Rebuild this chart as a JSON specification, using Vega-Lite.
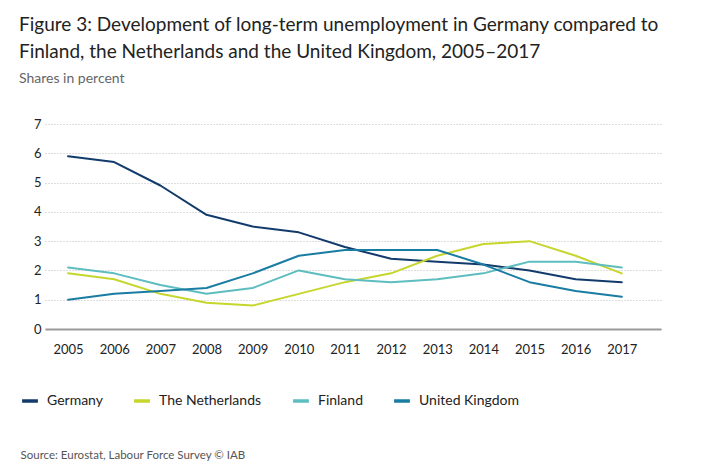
{
  "$schema": "https://vega.github.io/schema/vega-lite/v6.json",
  "autosize": "none",
  "width": 616,
  "height": 205,
  "padding": {"left": 45, "top": 124, "right": 40, "bottom": 147},
  "background": "white",
  "title": {
    "text": ["Figure 3: Development of long-term unemployment in Germany compared to", "Finland, the Netherlands and the United Kingdom, 2005\u20132017"],
    "subtitle": "Shares in percent",
    "anchor": "start",
    "frame": "group",
    "dx": -26,
    "offset": 32,
    "font": "Lato",
    "fontSize": 19,
    "fontWeight": "normal",
    "color": "#222222",
    "lineHeight": 27,
    "subtitleFont": "Lato",
    "subtitleFontSize": 14,
    "subtitleColor": "#666666",
    "subtitlePadding": 10
  },
  "data": {
    "values": [
      {"year": 2005, "country": "Germany", "share": 5.9},
      {"year": 2006, "country": "Germany", "share": 5.7},
      {"year": 2007, "country": "Germany", "share": 4.9},
      {"year": 2008, "country": "Germany", "share": 3.9},
      {"year": 2009, "country": "Germany", "share": 3.5},
      {"year": 2010, "country": "Germany", "share": 3.3},
      {"year": 2011, "country": "Germany", "share": 2.8},
      {"year": 2012, "country": "Germany", "share": 2.4},
      {"year": 2013, "country": "Germany", "share": 2.3},
      {"year": 2014, "country": "Germany", "share": 2.2},
      {"year": 2015, "country": "Germany", "share": 2.0},
      {"year": 2016, "country": "Germany", "share": 1.7},
      {"year": 2017, "country": "Germany", "share": 1.6},
      {"year": 2005, "country": "The Netherlands", "share": 1.9},
      {"year": 2006, "country": "The Netherlands", "share": 1.7},
      {"year": 2007, "country": "The Netherlands", "share": 1.2},
      {"year": 2008, "country": "The Netherlands", "share": 0.9},
      {"year": 2009, "country": "The Netherlands", "share": 0.8},
      {"year": 2010, "country": "The Netherlands", "share": 1.2},
      {"year": 2011, "country": "The Netherlands", "share": 1.6},
      {"year": 2012, "country": "The Netherlands", "share": 1.9},
      {"year": 2013, "country": "The Netherlands", "share": 2.5},
      {"year": 2014, "country": "The Netherlands", "share": 2.9},
      {"year": 2015, "country": "The Netherlands", "share": 3.0},
      {"year": 2016, "country": "The Netherlands", "share": 2.5},
      {"year": 2017, "country": "The Netherlands", "share": 1.9},
      {"year": 2005, "country": "Finland", "share": 2.1},
      {"year": 2006, "country": "Finland", "share": 1.9},
      {"year": 2007, "country": "Finland", "share": 1.5},
      {"year": 2008, "country": "Finland", "share": 1.2},
      {"year": 2009, "country": "Finland", "share": 1.4},
      {"year": 2010, "country": "Finland", "share": 2.0},
      {"year": 2011, "country": "Finland", "share": 1.7},
      {"year": 2012, "country": "Finland", "share": 1.6},
      {"year": 2013, "country": "Finland", "share": 1.7},
      {"year": 2014, "country": "Finland", "share": 1.9},
      {"year": 2015, "country": "Finland", "share": 2.3},
      {"year": 2016, "country": "Finland", "share": 2.3},
      {"year": 2017, "country": "Finland", "share": 2.1},
      {"year": 2005, "country": "United Kingdom", "share": 1.0},
      {"year": 2006, "country": "United Kingdom", "share": 1.2},
      {"year": 2007, "country": "United Kingdom", "share": 1.3},
      {"year": 2008, "country": "United Kingdom", "share": 1.4},
      {"year": 2009, "country": "United Kingdom", "share": 1.9},
      {"year": 2010, "country": "United Kingdom", "share": 2.5},
      {"year": 2011, "country": "United Kingdom", "share": 2.7},
      {"year": 2012, "country": "United Kingdom", "share": 2.7},
      {"year": 2013, "country": "United Kingdom", "share": 2.7},
      {"year": 2014, "country": "United Kingdom", "share": 2.2},
      {"year": 2015, "country": "United Kingdom", "share": 1.6},
      {"year": 2016, "country": "United Kingdom", "share": 1.3},
      {"year": 2017, "country": "United Kingdom", "share": 1.1}
    ]
  },
  "mark": {"type": "line", "strokeWidth": 2, "strokeCap": "round", "strokeJoin": "round"},
  "encoding": {
    "x": {
      "field": "year",
      "type": "quantitative",
      "scale": {"domain": [2004.5, 2017.85], "nice": false, "zero": false},
      "axis": {
        "values": [2005, 2006, 2007, 2008, 2009, 2010, 2011, 2012, 2013, 2014, 2015, 2016, 2017],
        "format": "d",
        "grid": false,
        "ticks": false,
        "domainColor": "#9a9a9a",
        "domainWidth": 2,
        "labelPadding": 14,
        "labelFont": "Lato",
        "labelFontSize": 13,
        "labelColor": "#222222",
        "title": "Source: Eurostat, Labour Force Survey \u00a9 IAB",
        "titleFont": "Lato",
        "titleFontSize": 11.5,
        "titleFontWeight": "normal",
        "titleColor": "#555555",
        "titleAnchor": "start",
        "titleAlign": "left",
        "titleBaseline": "middle",
        "titleX": -25,
        "titleY": 126
      }
    },
    "y": {
      "field": "share",
      "type": "quantitative",
      "scale": {"domain": [0, 7], "nice": false},
      "axis": {
        "values": [0, 1, 2, 3, 4, 5, 6, 7],
        "title": null,
        "domain": false,
        "ticks": false,
        "gridColor": "#bdbdbd",
        "gridDash": [1, 2],
        "gridWidth": 1,
        "labelPadding": 4,
        "labelFont": "Lato",
        "labelFontSize": 13,
        "labelColor": "#222222"
      }
    },
    "color": {
      "field": "country",
      "type": "nominal",
      "sort": ["Germany", "The Netherlands", "Finland", "United Kingdom"],
      "scale": {
        "domain": ["Germany", "The Netherlands", "Finland", "United Kingdom"],
        "range": ["#123b6c", "#c6d62c", "#5dbdbf", "#1a7ca3"]
      },
      "legend": {
        "title": null,
        "orient": "none",
        "legendX": -25,
        "legendY": 267,
        "direction": "horizontal",
        "symbolType": "stroke",
        "symbolStrokeWidth": 3.5,
        "symbolSize": 250,
        "labelFont": "Lato",
        "labelFontSize": 14,
        "labelColor": "#222222",
        "labelOffset": 7,
        "columnPadding": 24
      }
    }
  },
  "config": {
    "view": {"stroke": null}
  }
}
